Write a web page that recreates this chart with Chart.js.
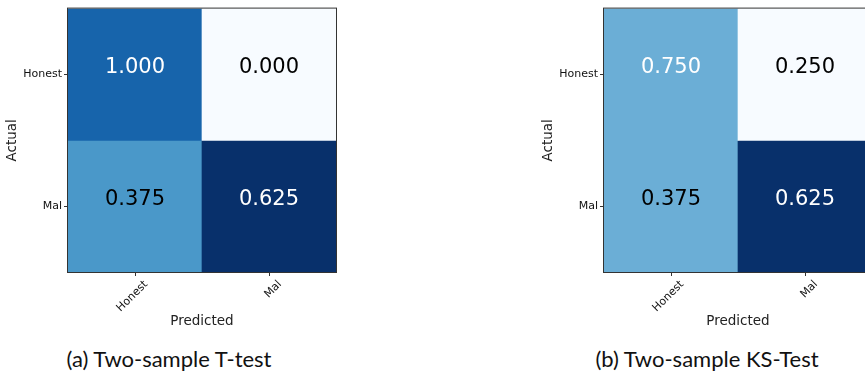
<!DOCTYPE html>
<html lang="en">
<head>
<meta charset="UTF-8">
<title>Confusion matrices</title>
<script src="https://cdn.jsdelivr.net/npm/chart.js"></script>
<style>
  html, body { margin: 0; padding: 0; background: #fff; }
  body { width: 865px; height: 378px; position: relative; overflow: hidden; }
  canvas { position: absolute; top: 0; }
  #cmA { left: 0; }
  #cmB { left: 536px; }
  .caption {
    position: absolute; top: 346px; width: 300px; margin-left: -150px; line-height: 26px;
    text-align: center; font-family: Lato, "Open Sans", sans-serif; font-size: 22px; color: #111;
  }
</style>
</head>
<body>
<canvas id="cmA" width="340" height="335"></canvas>
<canvas id="cmB" width="340" height="335"></canvas>
<div class="caption" id="capA" style="left:169px"></div>
<div class="caption" id="capB" style="left:707px"></div>

<script>
// class labels (same on both axes)
const classes = ['Honest', 'Mal'];
// row-normalised values printed in the cells (rows = actual, cols = predicted)
const valuesT = [[1.000, 0.000], [0.375, 0.625]];
const valuesKS = [[0.750, 0.250], [0.375, 0.625]];
// raw counts, these drive the cell shading
const countsT = [[4, 0], [3, 5]];
const countsKS = [[3, 1], [3, 5]];
const captions = ['(a) Two-sample T-test', '(b) Two-sample KS-Test'];

// matplotlib "Blues"
const bluesStops = [
  [247,251,255],[222,235,247],[198,219,239],[158,202,225],[107,174,214],
  [66,146,198],[33,113,181],[8,81,156],[8,48,107]
];
function blues(t) {
  t = Math.max(0, Math.min(1, t)) * (bluesStops.length - 1);
  const i = Math.min(Math.floor(t), bluesStops.length - 2);
  const f = t - i;
  const a = bluesStops[i], b = bluesStops[i + 1];
  const c = a.map((v, k) => Math.round(v + (b[k] - v) * f));
  return `rgb(${c[0]},${c[1]},${c[2]})`;
}

const cellLabels = {
  id: 'cellLabels',
  afterDatasetsDraw(chart, args, opts) {
    const {ctx, chartArea, scales: {x, y}} = chart;
    ctx.save();
    ctx.font = '21px "DejaVu Sans"';
    ctx.textAlign = 'center';
    ctx.textBaseline = 'middle';
    opts.values.forEach((row, i) => {
      row.forEach((v, j) => {
        ctx.fillStyle = v > 0.5 ? '#ffffff' : '#000000';
        ctx.fillText(v.toFixed(3), x.getPixelForValue(j), y.getPixelForValue(classes.length - i - 0.5) - 7);
      });
    });
    // frame round the matrix
    ctx.strokeStyle = '#333';
    ctx.lineWidth = 1;
    ctx.strokeRect(chartArea.left - 0.5, chartArea.top - 0.5,
      chartArea.right - chartArea.left + 1, chartArea.bottom - chartArea.top + 1);
    ctx.restore();
  }
};

function makeMatrix(canvasId, values, counts) {
  const flat = counts.flat();
  const lo = Math.min(...flat), hi = Math.max(...flat);
  const n = classes.length;
  const datasets = values.map((row, i) => ({
    label: classes[i],
    data: row.map(() => [n - i - 1, n - i]),
    backgroundColor: counts[i].map(c => blues((c - lo) / (hi - lo))),
    borderWidth: 0,
    grouped: false,
    barPercentage: 1,
    categoryPercentage: 1
  }));

  new Chart(document.getElementById(canvasId), {
    type: 'bar',
    data: { labels: classes, datasets: datasets },
    plugins: [cellLabels],
    options: {
      responsive: false,
      animation: false,
      layout: { padding: { top: 5, right: 4, left: 0, bottom: 0 } },
      plugins: {
        legend: { display: false },
        tooltip: { enabled: false },
        cellLabels: { values: values }
      },
      scales: {
        x: {
          afterFit: s => { s.height = 63; },
          border: { display: false },
          grid: { drawOnChartArea: false, offset: false, tickLength: 4, color: '#333' },
          ticks: {
            minRotation: 45, maxRotation: 45, labelOffset: 11, padding: 2,
            color: '#111', font: { family: 'DejaVu Sans', size: 11 }
          },
          title: {
            display: true, text: 'Predicted', color: '#222',
            font: { family: 'DejaVu Sans', size: 13.5 }, padding: { top: 0, bottom: 5 }
          }
        },
        y: {
          min: 0, max: n,
          afterFit: s => { s.width = 68; },
          afterBuildTicks: s => { s.ticks = classes.map((c, i) => ({ value: n - i - 0.5 })); },
          border: { display: false },
          grid: { drawOnChartArea: false, tickLength: 4, color: '#333' },
          ticks: {
            padding: 2, color: '#111', font: { family: 'DejaVu Sans', size: 11 },
            callback: v => classes[n - 1 - Math.floor(v)]
          },
          title: {
            display: true, text: 'Actual', color: '#222',
            font: { family: 'DejaVu Sans', size: 13.5 }, padding: { top: 4, bottom: 0 }
          }
        }
      }
    }
  });
}

makeMatrix('cmA', valuesT, countsT);
makeMatrix('cmB', valuesKS, countsKS);
document.getElementById('capA').textContent = captions[0];
document.getElementById('capB').textContent = captions[1];
</script>
</body>
</html>
